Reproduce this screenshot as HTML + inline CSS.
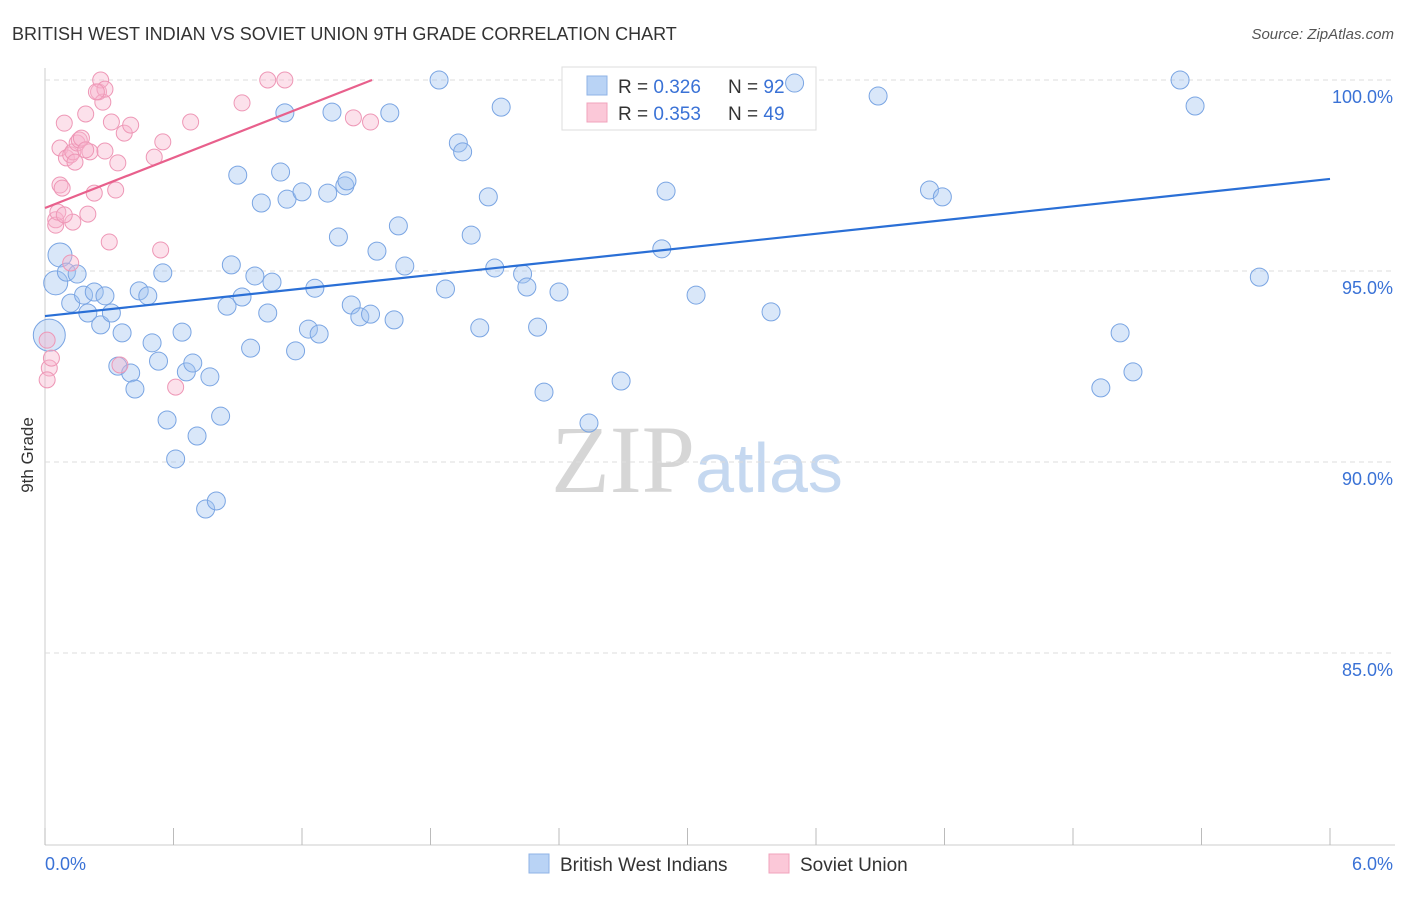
<!DOCTYPE html>
<html><head><meta charset="utf-8"><style>
body{margin:0;background:#fff;font-family:"Liberation Sans",sans-serif;}
svg text{font-family:"Liberation Sans",sans-serif;}
</style></head><body>
<svg id="c" width="1406" height="892">
<text x="12" y="40" font-size="18" fill="#333">BRITISH WEST INDIAN VS SOVIET UNION 9TH GRADE CORRELATION CHART</text>
<text x="1394" y="39" font-size="15" fill="#555" font-style="italic" text-anchor="end">Source: ZipAtlas.com</text>
<text x="33" y="455" font-size="17" fill="#333" transform="rotate(-90 33 455)" text-anchor="middle">9th Grade</text>
<text x="697" y="492" font-size="96" fill="#ddd" text-anchor="middle" font-family="Liberation Serif"><tspan fill="#d6d6d6" font-family="Liberation Serif">ZIP</tspan><tspan fill="#c5d8f0" font-size="70" font-family="Liberation Sans">atlas</tspan></text>
<g id="grid"></g>
<g>
<rect x="562" y="67" width="254" height="63" fill="#fff" stroke="#ddd"/>
<rect x="587" y="76" width="20" height="19" fill="#b9d3f5" stroke="#8fb3e6"/>
<rect x="587" y="103" width="20" height="19" fill="#fbc8d8" stroke="#f0a3bc"/>
<text x="618" y="93" font-size="19" fill="#333">R = <tspan fill="#3a72d6">0.326</tspan></text>
<text x="728" y="93" font-size="19" fill="#333">N = <tspan fill="#3a72d6">92</tspan></text>
<text x="618" y="120" font-size="19" fill="#333">R = <tspan fill="#3a72d6">0.353</tspan></text>
<text x="728" y="120" font-size="19" fill="#333">N = <tspan fill="#3a72d6">49</tspan></text>
</g>
<g id="marks"></g>
<g>
<rect x="529" y="854" width="20" height="19" fill="#b9d3f5" stroke="#8fb3e6"/>
<text x="560" y="871" font-size="19" fill="#333">British West Indians</text>
<rect x="769" y="854" width="20" height="19" fill="#fbc8d8" stroke="#f0a3bc"/>
<text x="800" y="871" font-size="19" fill="#333">Soviet Union</text>
</g>
</svg>
<script>
const xTicks=[0,0.6,1.2,1.8,2.4,3,3.6,4.2,4.8,5.4,6];
const yTicks=[85,90,95,100];
const yTickLabels=["85.0%","90.0%","95.0%","100.0%"];
const blueX=[.05,.07,.02,.10,.15,.12,.18,.23,.20,.28,.26,.31,.36,.34,.40,.42,.44,.48,.50,.53,.55,.57,.61,.64,.66,.69,.71,.75,.77,.80,.82,.85,.87,.90,.92,.96,.98,1.01,1.04,1.06,1.10,1.12,1.13,1.17,1.20,1.23,1.26,1.28,1.32,1.34,1.37,1.40,1.41,1.43,1.47,1.52,1.55,1.61,1.63,1.65,1.68,1.84,1.87,1.93,1.95,1.99,2.03,2.07,2.10,2.13,2.23,2.25,2.30,2.33,2.40,2.54,2.69,2.88,2.90,3.04,3.39,3.50,3.89,4.13,4.19,4.93,5.02,5.08,5.30,5.37,5.67];
const blueY=[94.69,95.42,93.32,94.97,94.92,94.16,94.37,94.45,93.90,94.35,93.59,93.90,93.38,92.51,92.33,91.91,94.48,94.35,93.12,92.64,94.95,91.10,90.08,93.40,92.36,92.59,90.68,88.77,92.23,88.98,91.20,94.08,95.16,97.51,94.32,92.98,94.87,96.78,93.90,94.71,97.59,99.14,96.88,92.91,97.07,93.48,94.55,93.35,97.04,99.16,95.89,97.23,97.36,94.11,93.80,93.87,95.52,99.14,93.72,96.18,95.13,100,94.53,98.35,98.12,95.94,93.51,96.94,95.08,99.29,94.92,94.58,93.53,91.83,94.45,91.02,92.12,95.58,97.09,94.37,93.93,99.92,99.58,97.12,96.94,91.94,93.38,92.36,100,99.32,94.84];
const blueSize=[3,3,7];
const pinkX=[.01,.02,.01,.03,.05,.05,.06,.07,.08,.07,.09,.10,.12,.13,.13,.14,.15,.16,.17,.19,.20,.21,.23,.25,.26,.27,.28,.30,.31,.33,.34,.35,.37,.40,.51,.54,.55,.61,.68,.92,1.04,1.12,1.44,1.52,.12,.19,.28,.24,.09];
const pinkY=[93.19,92.46,92.15,92.72,96.34,96.20,96.54,97.25,97.17,98.22,98.87,97.96,98.04,96.28,98.12,97.85,98.35,98.43,98.48,99.11,96.49,98.12,97.04,99.69,100,99.42,99.76,95.76,98.90,97.12,97.83,92.54,98.61,98.82,97.98,95.55,98.38,91.96,98.90,99.40,100,100,99.01,98.90,95.21,98.17,98.14,99.69,96.47];
const blueTrend=[[0,93.82],[6,97.41]];
const pinkTrend=[[0,96.65],[1.527,100]];
const X=v=>45+v/6*1285, Y=v=>80+(100-v)*38.2;
const NS="http://www.w3.org/2000/svg";
const grid=document.getElementById('grid'), marks=document.getElementById('marks');
function mk(tag,at,parent){const e=document.createElementNS(NS,tag);for(const k in at)e.setAttribute(k,at[k]);parent.appendChild(e);return e;}
let ax=mk('line',{x1:45,y1:68,x2:45,y2:845,stroke:'#ccc'},grid);


let bx=mk('line',{x1:45,y1:845,x2:1395,y2:845,stroke:'#ccc'},grid);


xTicks.forEach(t=>{let l=mk('line',{x1:X(t),y1:828,x2:X(t),y2:845,stroke:'#bbb'},grid);

});
yTicks.forEach((t,i)=>{let l=mk('line',{x1:45,y1:Y(t),x2:1395,y2:Y(t),stroke:'#ddd','stroke-dasharray':'5,4'},grid);


let tx=mk('text',{x:1393,y:Y(t)+23,'font-size':18,fill:'#3a72d6','text-anchor':'end'},grid);tx.textContent=yTickLabels[i];

});
let x0=mk('text',{x:45,y:870,'font-size':18,fill:'#3a72d6'},grid);x0.textContent='0.0%';


let x1=mk('text',{x:1393,y:870,'font-size':18,fill:'#3a72d6','text-anchor':'end'},grid);x1.textContent='6.0%';


blueX.forEach((v,i)=>{const big=blueSize[i]||0;let c=mk('circle',{cx:X(v),cy:Y(blueY[i]),r:9+big,fill:'rgba(160,195,240,0.4)',stroke:'#7aa5e3','stroke-width':1},marks);

});
pinkX.forEach((v,i)=>{let c=mk('circle',{cx:X(v),cy:Y(pinkY[i]),r:8,fill:'rgba(248,180,205,0.4)',stroke:'#ee97b6','stroke-width':1},marks);

});
let bl=mk('line',{x1:X(blueTrend[0][0]),y1:Y(blueTrend[0][1]),x2:X(blueTrend[1][0]),y2:Y(blueTrend[1][1]),stroke:'#2a6fd6','stroke-width':2.2},marks);


let pl=mk('line',{x1:X(pinkTrend[0][0]),y1:Y(pinkTrend[0][1]),x2:X(pinkTrend[1][0]),y2:Y(pinkTrend[1][1]),stroke:'#e8608c','stroke-width':2.2},marks);


</script>
</body></html>
